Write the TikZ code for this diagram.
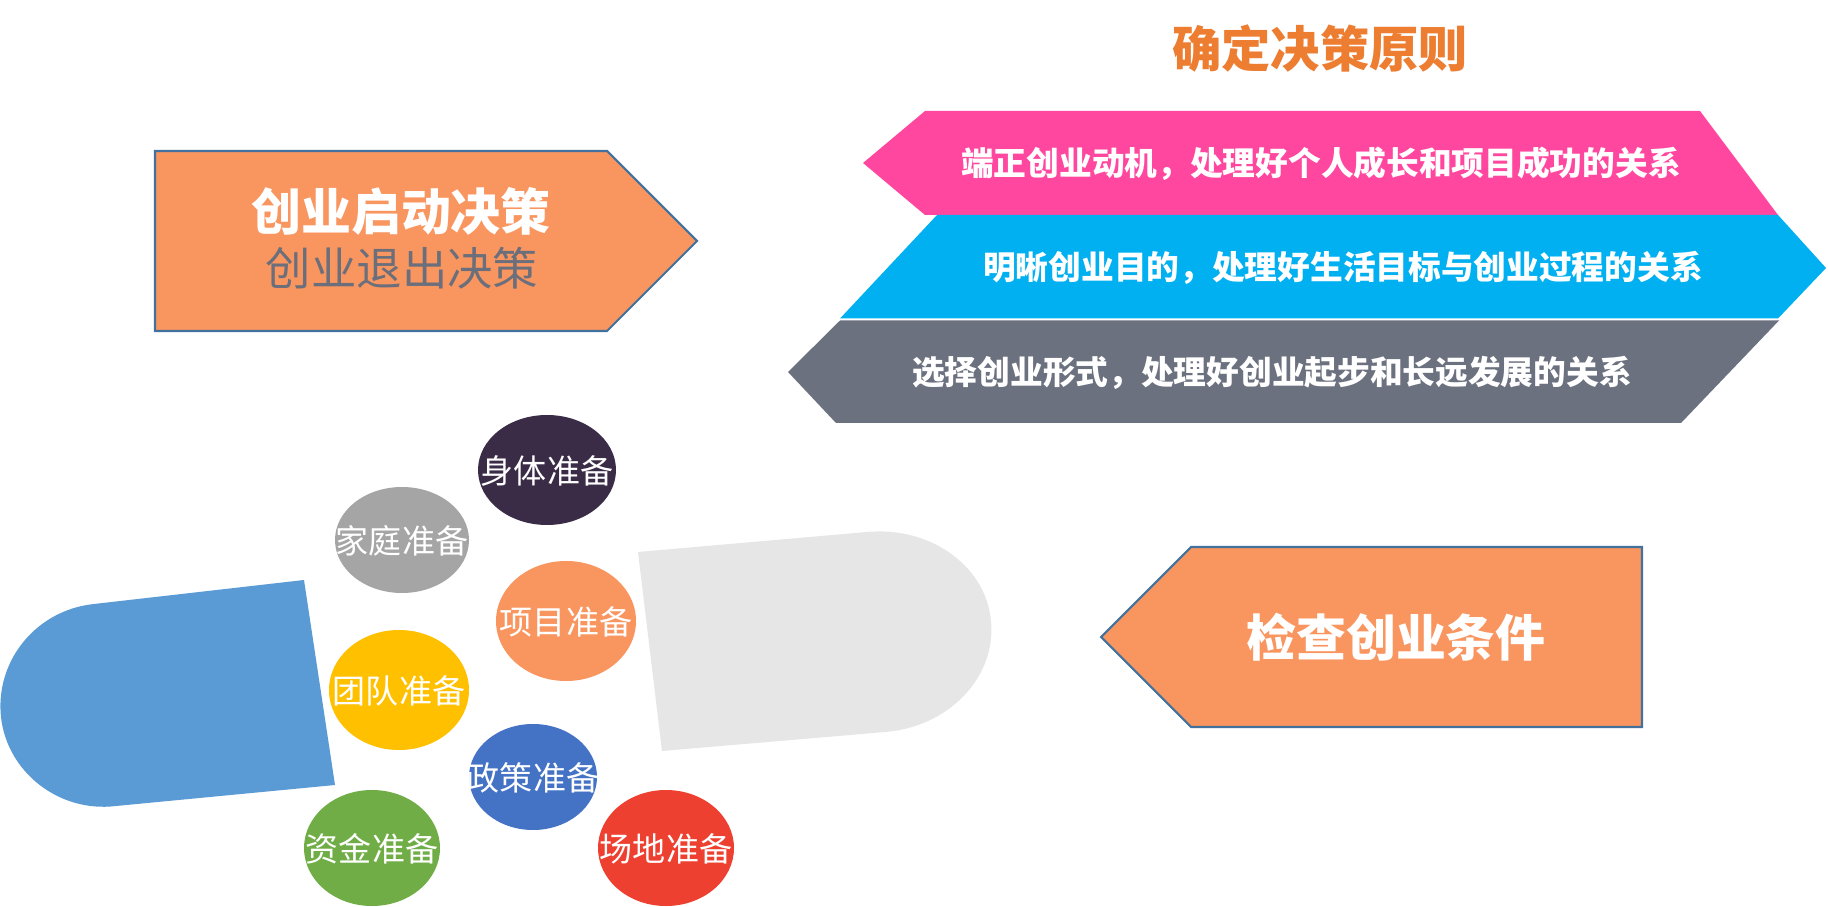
\documentclass[tikz,border=0pt]{standalone}
\usepackage{fontspec}
\newfontfamily\cjk{Noto Sans CJK SC}
\usetikzlibrary{shapes.geometric}
\definecolor{pentaorange}{HTML}{F9955F}
\definecolor{pentaedge}{HTML}{41719C}
\definecolor{titleorange}{HTML}{ED7D31}
\definecolor{bandpink}{HTML}{FF479F}
\definecolor{bandblue}{HTML}{00B0F0}
\definecolor{bandgray}{HTML}{6C7180}
\definecolor{subgray}{HTML}{6B6F7B}
\definecolor{pillblue}{HTML}{5B9BD5}
\definecolor{pillgray}{HTML}{E6E6E6}
\definecolor{cdark}{HTML}{3A2C46}
\definecolor{cgray}{HTML}{A5A5A5}
\definecolor{cyellow}{HTML}{FFC000}
\definecolor{cblue}{HTML}{4472C4}
\definecolor{cgreen}{HTML}{70AD47}
\definecolor{cred}{HTML}{EE4030}
\tikzset{
  txt/.style={inner sep=0pt, text=white, font=\cjk},
  bigbold/.style={txt, font=\cjk\bfseries\fontsize{14.2pt}{16pt}\selectfont},
  bandtxt/.style={txt, font=\cjk\bfseries\fontsize{9.3pt}{11pt}\selectfont},
  balltxt/.style={txt, font=\cjk\fontsize{9.4pt}{11pt}\selectfont},
  penta/.style={fill=pentaorange, draw=pentaedge, line width=0.6pt},
}
\begin{document}
\begin{tikzpicture}[x=0.01cm,y=-0.01cm]
\useasboundingbox[fill=white] (0,0) rectangle (1828,907);

% title
\node[txt, text=titleorange, font=\cjk\bfseries\fontsize{14pt}{16pt}\selectfont] (title) at (1320,49) {确定决策原则};

% left pentagon
\path[penta] (155,151) -- (607,151) -- (697,241) -- (607,331) -- (155,331) -- cycle;
\node[bigbold] (start) at (401,211) {创业启动决策};
\node[txt, text=subgray, font=\cjk\fontsize{12.9pt}{15pt}\selectfont] (exit) at (402,268) {创业退出决策};

% bands
\fill[bandpink] (863,163) -- (925,111) -- (1700,111) -- (1778,215) -- (925,215) -- cycle;
\node[bandtxt] (p1) at (1321,164) {端正创业动机，处理好个人成长和项目成功的关系};
\fill[bandblue] (937,215) -- (1778,215) -- (1826,268) -- (1778,318.5) -- (840,318.5) -- cycle;
\node[bandtxt] (p2) at (1343,268) {明晰创业目的，处理好生活目标与创业过程的关系};
\fill[bandgray] (840,320.5) -- (1779,320.5) -- (1681,423) -- (836,423) -- (788,372) -- cycle;
\node[bandtxt] (p3) at (1272,373) {选择创业形式，处理好创业起步和长远发展的关系};

% right pentagon
\path[penta] (1101,637) -- (1191,547) -- (1642,547) -- (1642,727) -- (1191,727) -- cycle;
\node[bigbold] (check) at (1396,637) {检查创业条件};

% capsule halves
\fill[pillblue] (304,580) -- (94,604) .. controls (36,610) and (-5,661) .. (1,717)
  .. controls (7,772) and (59,813) .. (116,806) -- (335,785) -- cycle;
\fill[pillgray] (638,552) -- (867,532) .. controls (931,526) and (987,567) .. (991,622)
  .. controls (996,677) and (949,727) .. (885,732) -- (662,751) -- cycle;

% balls
\fill[cdark] (547,470) ellipse [x radius=69, y radius=55];
\node[balltxt] (b1) at (547,471) {身体准备};
\fill[cgray] (402,540) ellipse [x radius=67, y radius=53];
\node[balltxt] (b2) at (402,541) {家庭准备};
\fill[pentaorange] (566,621) ellipse [x radius=70, y radius=60];
\node[balltxt] (b3) at (566,622) {项目准备};
\fill[cyellow] (399,690) ellipse [x radius=70, y radius=60];
\node[balltxt] (b4) at (399,691) {团队准备};
\fill[cblue] (533,777) ellipse [x radius=64, y radius=53];
\node[balltxt] (b5) at (533,778) {政策准备};
\fill[cgreen] (372,848) ellipse [x radius=68, y radius=58];
\node[balltxt] (b6) at (372,849) {资金准备};
\fill[cred] (666,848) ellipse [x radius=68, y radius=58];
\node[balltxt] (b7) at (666,849) {场地准备};
\end{tikzpicture}
\end{document}
